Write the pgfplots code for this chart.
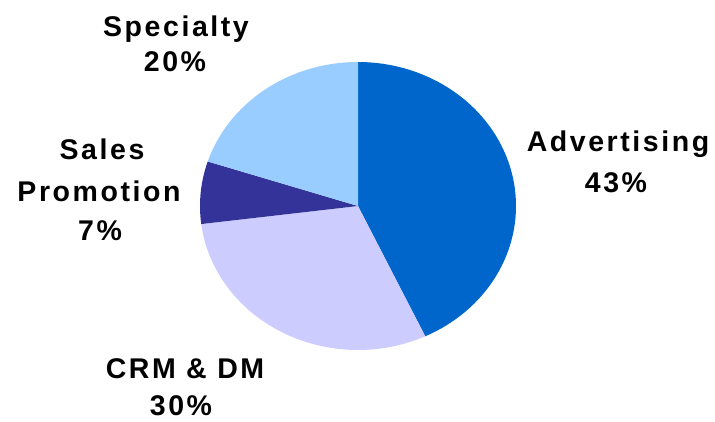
\documentclass[border=0pt]{standalone}
\usepackage{pgfplots}
\pgfplotsset{compat=1.18}
\usepackage{fontspec}
\setmainfont{Liberation Sans}
\newfontfamily\lab{Liberation Sans}[LetterSpace=9]
\definecolor{cAdv}{HTML}{0066CC}
\definecolor{cCRM}{HTML}{CCCCFF}
\definecolor{cSP}{HTML}{333399}
\definecolor{cSpec}{HTML}{99CCFF}
\begin{document}
\begin{tikzpicture}
\begin{axis}[
  width=715pt, height=421pt, scale only axis,
  xmin=0, xmax=715, ymin=0, ymax=421,
  hide axis, clip=false,
]
\coordinate (ll) at (axis cs:0,0);
\coordinate (ur) at (axis cs:715,421);
% shares: Advertising 43, CRM & DM 30, Sales Promotion 7, Specialty 20 (clockwise from top)
% Advertising 43% : 90 -> 90-154.8
\addplot[fill=cAdv, draw=none, domain=-64.8:90, samples=120, variable=\t]
  ({358+158*cos(\t)},{215+144*sin(\t)}) -- (358,215) -- cycle;
% CRM & DM 30%
\addplot[fill=cCRM, draw=none, domain=-172.8:-64.8, samples=100, variable=\t]
  ({358+158*cos(\t)},{215+144*sin(\t)}) -- (358,215) -- cycle;
% Sales Promotion 7%
\addplot[fill=cSP, draw=none, domain=-198:-172.8, samples=40, variable=\t]
  ({358+158*cos(\t)},{215+144*sin(\t)}) -- (358,215) -- cycle;
% Specialty 20%
\addplot[fill=cSpec, draw=none, domain=-270:-198, samples=80, variable=\t]
  ({358+158*cos(\t)},{215+144*sin(\t)}) -- (358,215) -- cycle;

\tikzset{lbl/.style={anchor=base, inner sep=0pt, font=\lab\bfseries\fontsize{28.5}{34}\selectfont}}
\node[lbl] at (axis cs:176,384) {Specialty};
\node[lbl] at (axis cs:175,349) {20\%};
\node[lbl] at (axis cs:102,261) {Sales};
\node[lbl] at (axis cs:99,219) {Promotion};
\node[lbl] at (axis cs:100,181) {7\%};
\node[lbl] at (axis cs:618,269) {Advertising};
\node[lbl] at (axis cs:616,228) {43\%};
\node[lbl] at (axis cs:185,43) {CRM \& DM};
\node[lbl] at (axis cs:181,6) {30\%};
\end{axis}
\pgfresetboundingbox
\useasboundingbox (ll) rectangle (ur);
\end{tikzpicture}
\end{document}
